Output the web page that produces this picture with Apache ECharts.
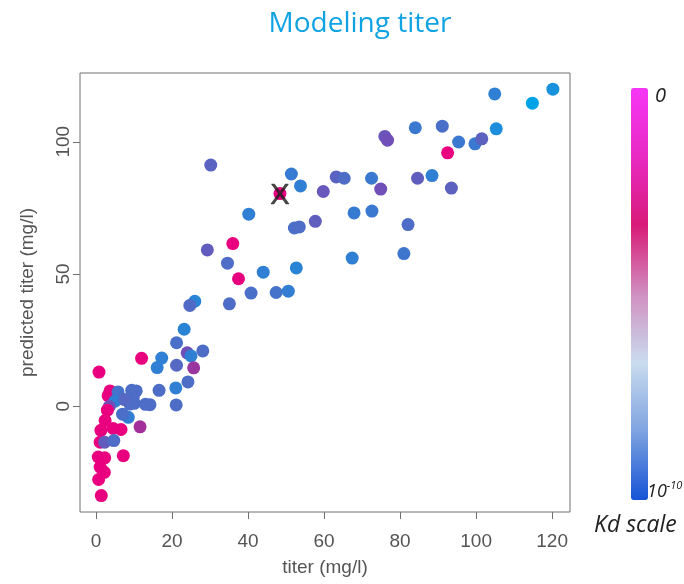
<!DOCTYPE html>
<html>
<head>
<meta charset="utf-8">
<script src="https://cdn.jsdelivr.net/npm/echarts@6/dist/echarts.min.js"></script>
<style>
html,body{margin:0;padding:0;background:#fff;}
#chart{width:684px;height:584px;}
</style>
</head>
<body>
<div id="chart"></div>
<script>
// ---- data ----
var titer = [104.9,120.2,114.8,84.0,91.1,105.3,76.0,76.7,95.4,99.7,101.5,92.5,63.2,65.3,72.5,84.6,88.4,74.9,93.5,67.9,72.6,82.1,67.4,81.0,
  30.2,51.4,53.8,48.4,59.8,40.2,52.2,53.5,57.7,36.0,29.3,34.6,37.5,44.0,52.7,40.8,47.4,50.6,26.0,24.7,35.1,23.2,21.2,24.0,28.1,25.0,17.3,16.1,21.2,25.7,24.2,21.0,16.6,14.2,21.1,
  12.0,0.8,3.7,3.2,5.8,9.4,10.6,5.0,3.5,3.0,8.9,10.1,13.0,9.8,7.5,8.5,7.0,11.6,2.4,1.3,4.5,6.6,1.1,2.3,4.7,7.2,0.6,2.3,1.1,2.2,0.7,1.4];
var predicted = [118.1,119.9,114.6,105.3,105.9,104.9,102.0,100.6,99.9,99.2,101.1,95.8,86.7,86.2,86.2,86.2,87.2,82.1,82.5,73.1,73.8,68.7,56.0,57.7,
  91.2,87.8,83.3,80.4,81.2,72.6,67.4,67.8,69.9,61.5,59.1,54.1,48.2,50.7,52.3,42.8,43.0,43.5,39.7,38.1,38.7,29.1,24.0,20.2,20.9,19.0,18.2,14.6,15.5,14.5,9.2,6.9,6.0,0.6,0.5,
  18.1,12.9,5.8,4.0,5.4,6.0,5.8,1.9,-0.1,-1.5,0.8,1.1,0.7,3.3,2.5,-4.2,-3.0,-7.8,-5.4,-9.1,-8.4,-8.8,-13.6,-13.6,-13.0,-18.7,-19.2,-19.5,-23.0,-25.0,-27.7,-33.8];
// colour level of each point: 0 = cyan ... 5 = magenta
var kdLevel = [1,0.5,0,1.3,1.7,0.6,2.8,3,1.3,1.3,2.3,5,2.2,1.8,1.3,2.4,1,3,2.3,1.2,1.3,1.8,1,1.4,
  2.2,1.2,1.0,5,2.7,1.0,1.7,1.8,2.4,5,2.5,1.8,5,1.0,0.9,1.7,1.6,1.1,0.9,1.9,1.8,0.9,1.7,3,1.8,1.0,1.0,1.0,2.0,3.8,1.8,1.0,1.8,1.8,1.8,
  5,5,5,5,1.6,1.8,1.8,1.0,3,5,1.8,1.8,1.8,1.8,2,1.1,1.7,4,5,5,5,5,5,2.5,1.8,5,5,5,5,5,5,5];
var markerPoint = [48.4, 80.4];
var xTicks = [0,20,40,60,80,100,120];
var yTicks = [0,50,100];
var kdLabels = ['0', '10', '-10'];

var pts = titer.map(function(x,i){ return [x, predicted[i], kdLevel[i]]; });

var chart = echarts.init(document.getElementById('chart'), null, {renderer:'canvas'});
var tickFont = 'Liberation Sans, Arial, sans-serif';
var roundFont = '"Open Sans", Lato, sans-serif';
chart.setOption({
  animation:false,
  backgroundColor:'#ffffff',
  title:{
    text:'Modeling titer', left:360, top:10, textAlign:'center', padding:0,
    textStyle:{fontFamily:roundFont, fontSize:28, fontWeight:'normal', color:'#10a3e4'}
  },
  grid:{left:80, right:114, top:73, bottom:72, show:true, borderColor:'#707070', borderWidth:1, backgroundColor:'transparent'},
  xAxis:{
    type:'value', min:-4.2, max:124.7,
    name:'titer (mg/l)', nameLocation:'middle', nameGap:46,
    nameTextStyle:{fontFamily:tickFont, fontSize:19, color:'#555'},
    axisLine:{show:false, onZero:false},
    axisTick:{show:true, length:7, inside:false, customValues:xTicks, lineStyle:{color:'#707070'}},
    axisLabel:{customValues:xTicks, margin:20, fontFamily:tickFont, fontSize:19, color:'#555'},
    splitLine:{show:false}
  },
  yAxis:{
    type:'value', min:-40, max:126,
    name:'predicted titer (mg/l)', nameLocation:'middle', nameGap:43,
    nameTextStyle:{fontFamily:tickFont, fontSize:19, color:'#555'},
    axisLine:{show:false, onZero:false},
    axisTick:{show:true, length:7, inside:false, customValues:yTicks, lineStyle:{color:'#707070'}},
    axisLabel:{customValues:yTicks, rotate:90, margin:7, fontFamily:tickFont, fontSize:19, color:'#555'},
    splitLine:{show:false}
  },
  visualMap:[
    {type:'continuous', show:false, seriesIndex:0, dimension:2, min:0, max:5,
     inRange:{color:['#00a3e6','#2f80d4','#5468c4','#7050b8','#a3309a','#e8007e']}},
    {type:'continuous', show:true, seriesIndex:2, min:0, max:1, calculable:false,
     left:631, top:88, padding:0, itemWidth:17, itemHeight:412, text:null, showLabel:false,
     inRange:{color:['#1653d6','#7ea3e0','#c9dcef','#d08fc0','#d81b78','#e82ac4','#f636f6']}}
  ],
  series:[
    {type:'scatter', data:pts, symbolSize:13, itemStyle:{opacity:1}},
    {type:'scatter', data:[markerPoint], symbolSize:1, itemStyle:{color:'rgba(0,0,0,0)'}, z:5,
     label:{show:true, position:'inside', offset:[0,2], formatter:'X', fontFamily:tickFont, fontSize:29, color:'#1e1e1e', textBorderColor:'#1e1e1e', textBorderWidth:0.6}},
    {type:'scatter', data:[]}
  ],
  graphic:[
    {type:'text', left:655, top:86, style:{text:kdLabels[0], font:'italic 20px '+roundFont, fill:'#222'}},
    {type:'text', left:647, top:480, style:{text:'{b|'+kdLabels[1]+'}{s|'+kdLabels[2]+'}', font:'italic 18px '+roundFont, fill:'#222',
      rich:{b:{fontSize:18, fontStyle:'italic', fontFamily:roundFont, fill:'#222', lineHeight:24},
            s:{fontSize:11, fontStyle:'italic', fontFamily:roundFont, fill:'#222', verticalAlign:'top', lineHeight:24, padding:[0,0,7,0]}}}},
    {type:'text', left:594, top:514, style:{text:'Kd scale', font:'italic 23px '+roundFont, fill:'#222'}}
  ]
});
</script>
</body>
</html>
